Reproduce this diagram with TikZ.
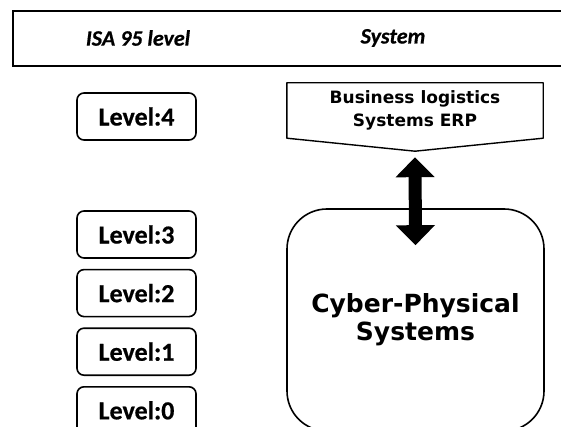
\documentclass[tikz,border=0pt]{standalone}
\usepackage{fontspec}
\newfontfamily\calfont{Carlito}[BoldFont={Carlito Bold},
  ItalicFont={Carlito Italic}, BoldItalicFont={Carlito Bold Italic},
  BoldFeatures={FakeBold=0.6}, BoldItalicFeatures={FakeBold=0.6}]
\newfontfamily\dvfont{DejaVu Sans}
\usetikzlibrary{positioning,arrows.meta,calc}

\tikzset{
  lvlbox/.style={draw, line width=1.6pt, rounded corners=7pt,
    minimum width=119pt, minimum height=47pt, inner sep=0pt,
    font=\calfont\bfseries\fontsize{26}{30}\selectfont},
  headtxt/.style={font=\calfont\bfseries\itshape\fontsize{22}{26}\selectfont},
  bigarrow/.style={line width=13pt,
    {Triangle[length=20pt,width=38pt]}-{Triangle[length=20pt,width=38pt]}}
}

\begin{document}
\begin{tikzpicture}[x=1pt, y=-1pt]
\useasboundingbox (0,0) rectangle (561,427);
% header row
\draw[line width=2pt] (13,11) rectangle (575,66);
\node[headtxt] (isa) at (138,38) {ISA 95 level};
\node[headtxt] (sys) at (393,38) {System};
% ISA 95 levels
\node[lvlbox] (l4) at (136.5,116.5) {Level:4};
\node[lvlbox] (l3) at (136.5,234.5) {Level:3};
\node[lvlbox, below=10pt of l3] (l2) {Level:2};
\node[lvlbox, below=10pt of l2] (l1) {Level:1};
\node[lvlbox, below=10pt of l1] (l0) {Level:0};
% ERP system, pentagon pointing down
\node[minimum width=256pt, minimum height=55pt, inner sep=0pt, align=center,
  font=\dvfont\bfseries\fontsize{17}{23}\selectfont] (erp) at (415,110.5)
  {Business logistics\\Systems ERP};
\coordinate (erptip) at ($(erp.south)+(0,13)$);
\draw[line width=1.4pt, line join=round] (erp.north west) -- (erp.north east)
  -- (erp.south east) -- (erptip) -- (erp.south west) -- cycle;
% cyber-physical systems
\node[draw, line width=1.6pt, rounded corners=40pt, minimum width=257pt,
  minimum height=222pt, inner sep=0pt, align=center,
  font=\dvfont\bfseries\fontsize{25}{28}\selectfont] (cps) at (415.5,320)
  {Cyber-Physical\\Systems};
% link between them
\draw[bigarrow] ([yshift=-6pt]erptip) -- ([yshift=-37pt]cps.north);
\end{tikzpicture}
\end{document}
